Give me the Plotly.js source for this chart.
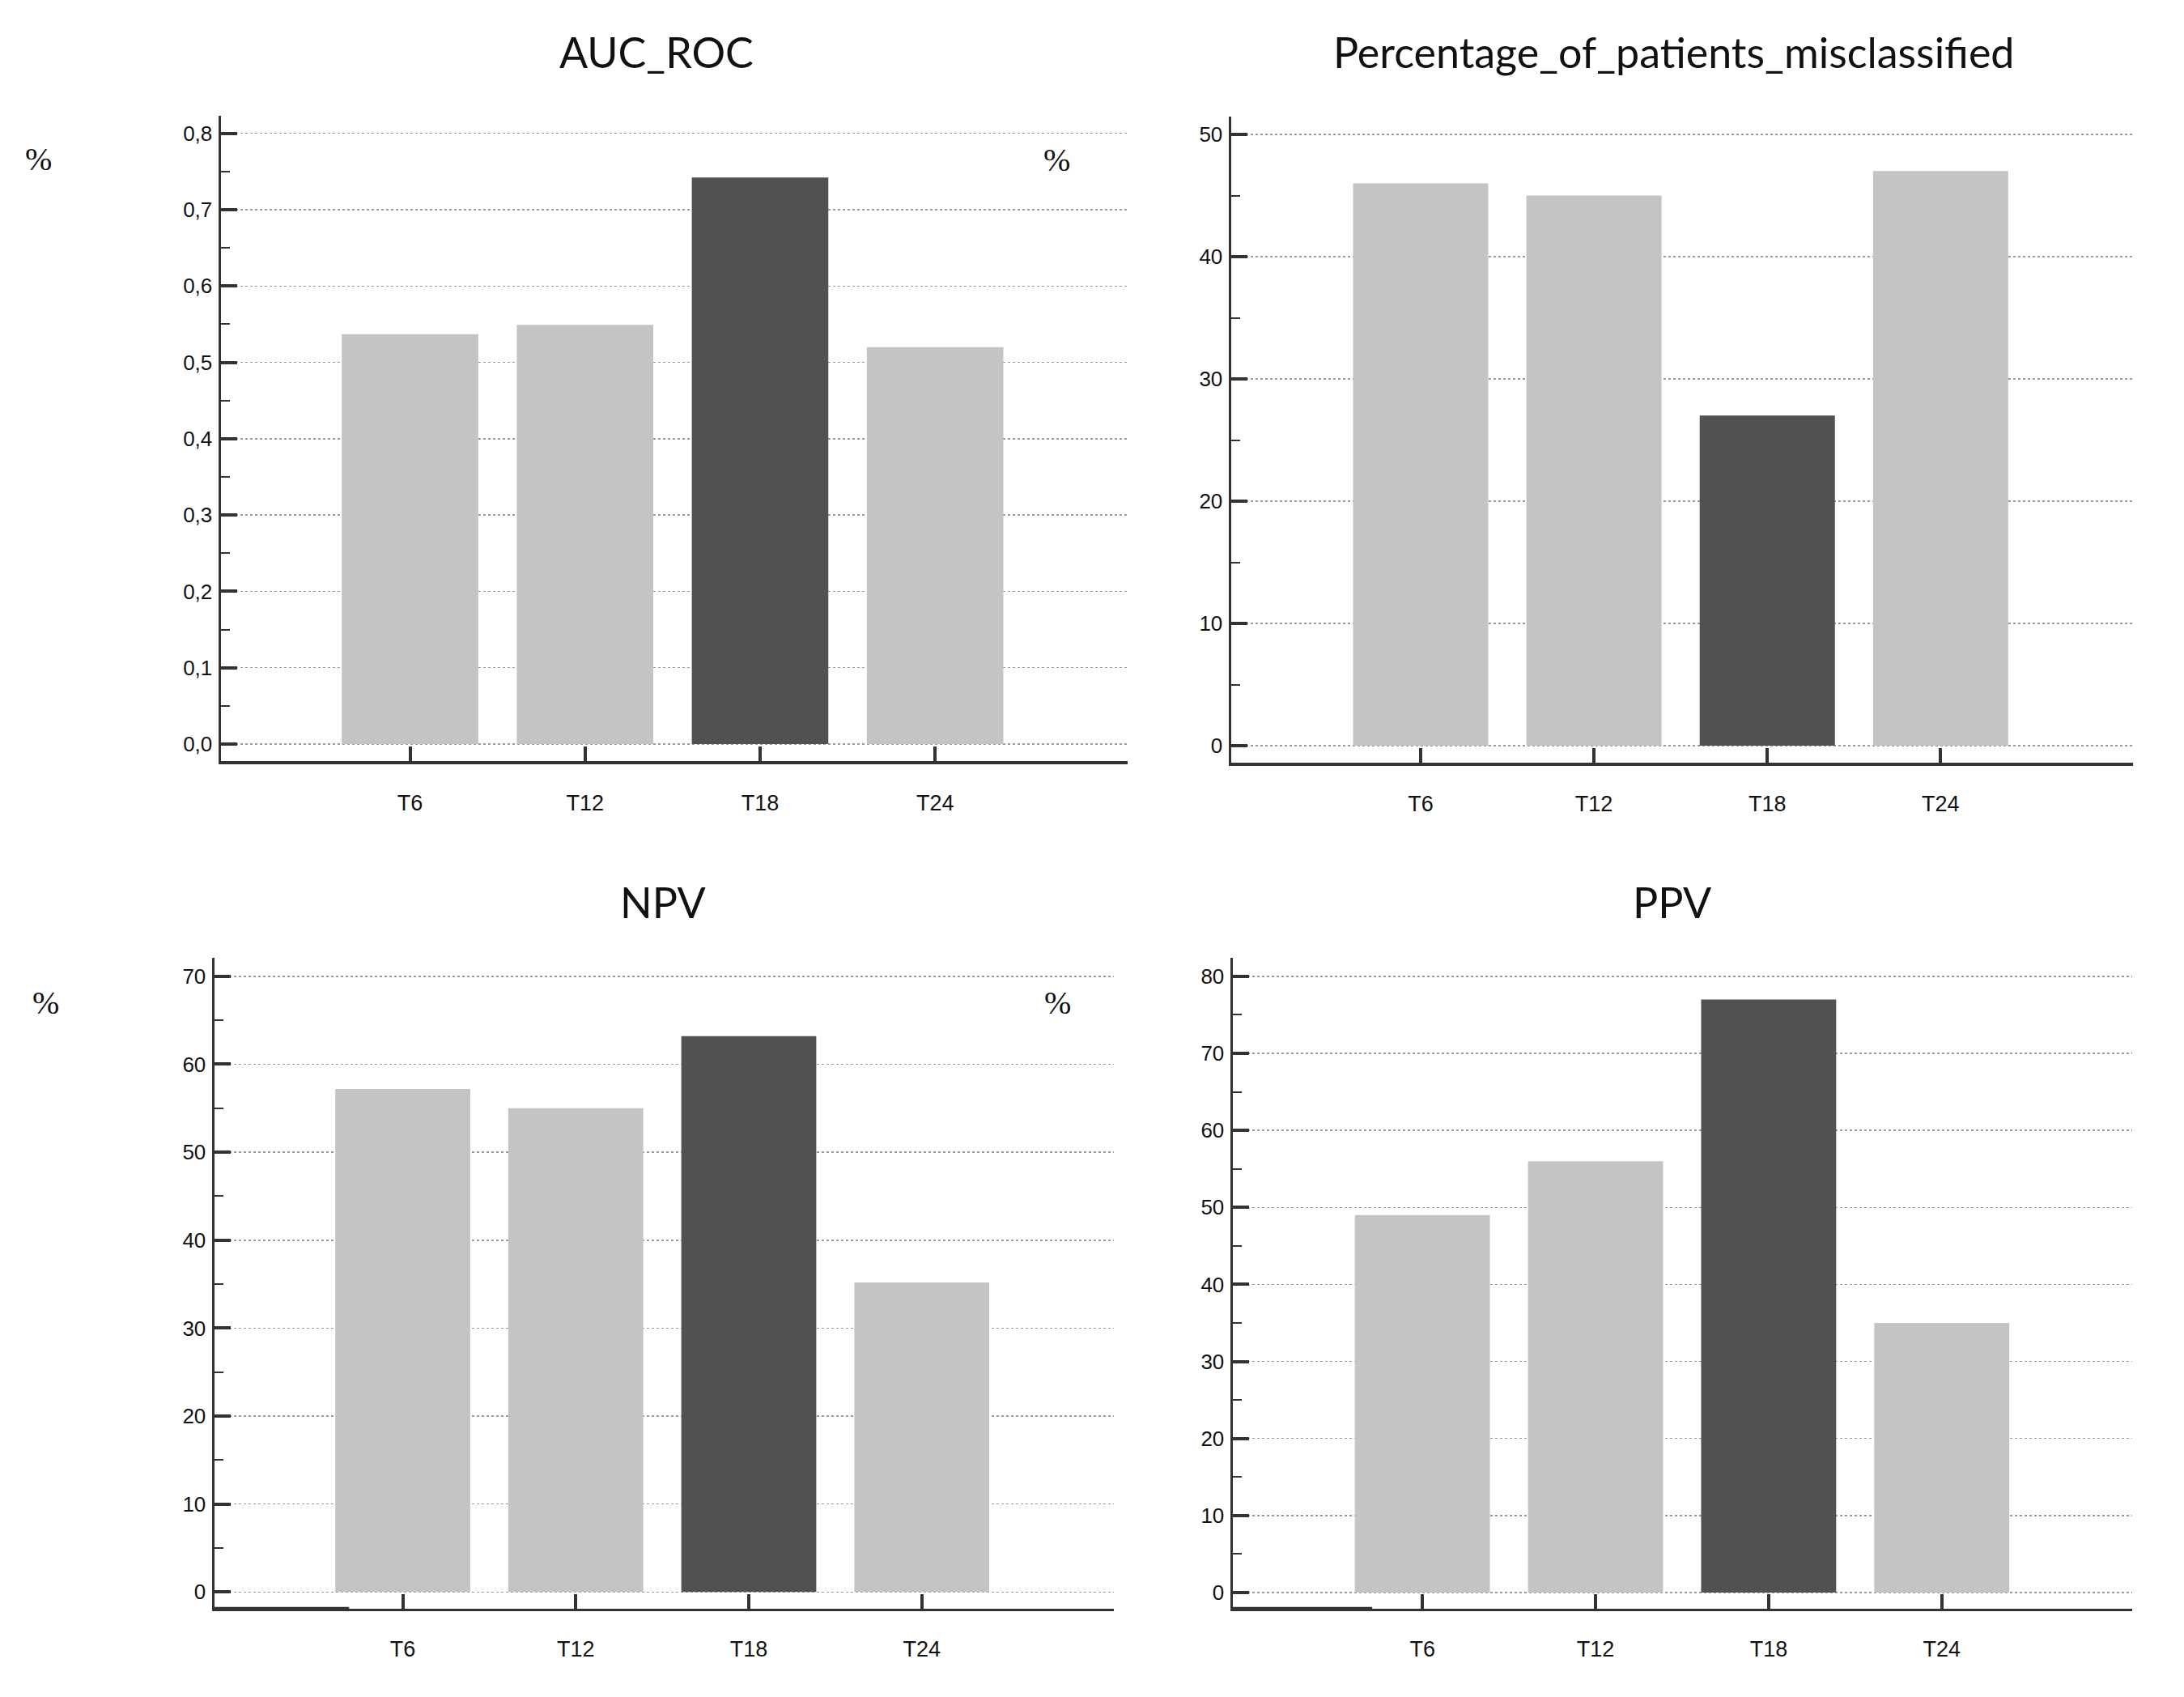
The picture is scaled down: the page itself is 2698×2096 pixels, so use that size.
<!DOCTYPE html>
<html>
<head>
<meta charset="utf-8">
<script src="https://cdn.plot.ly/plotly-3.0.1.min.js"></script>
<style>html,body{margin:0;padding:0;background:#fff;}#chart{width:2698px;height:2096px;}</style>
</head>
<body>
<div id="chart"></div>
<script>
// ---- data ----
const categories = ['T6', 'T12', 'T18', 'T24'];
const aucRoc = [0.537, 0.549, 0.742, 0.520];
const misclassified = [46, 45, 27, 47];
const npv = [57.2, 55, 63.2, 35.2];
const ppv = [49, 56, 77, 35];
const barColors = ['#c4c4c4', '#c4c4c4', '#515151', '#c4c4c4'];
const panelTitles = ['AUC_ROC', 'Percentage_of_patients_misclassified', 'NPV', 'PPV'];
const unitLabel = '%';

const W = 2698, H = 2096;
const px = v => v / W;
const py = v => 1 - v / H;

function bar(y, xa, ya) {
  return {
    type: 'bar', x: categories, y: y, xaxis: xa, yaxis: ya,
    width: 0.78, marker: {color: barColors, line: {width: 0}},
    hoverinfo: 'x+y', showlegend: false
  };
}

const tickFont = {family: 'Liberation Sans, Arial, sans-serif', size: 26, color: '#111'};
const xTickFont = {family: 'Liberation Sans, Arial, sans-serif', size: 27, color: '#111'};

function xAxis(dom, range, lw, anchor) {
  return {
    domain: dom, range: range, type: 'category', fixedrange: true, anchor: anchor,
    showline: true, linecolor: '#333', linewidth: lw,
    ticks: 'inside', ticklen: 18, tickwidth: 4, tickcolor: '#333',
    showgrid: false, zeroline: false, tickfont: xTickFont, ticklabelstandoff: 24
  };
}
function yAxis(dom, range, dtick, minor, fmt, anchor) {
  return {
    domain: dom, range: range, anchor: anchor, fixedrange: true,
    showline: true, linecolor: '#333', linewidth: 3.5,
    ticks: 'inside', ticklen: 20, tickwidth: 4, tickcolor: '#333',
    tick0: 0, dtick: dtick, tickformat: fmt,
    minor: {ticks: 'inside', ticklen: 11, tickwidth: 2, tickcolor: '#333', dtick: minor, tick0: 0, showgrid: false},
    showgrid: true, gridcolor: '#9a9a9a', griddash: 'dot', gridwidth: 1.5,
    zeroline: false, tickfont: tickFont, ticklabelstandoff: 2
  };
}

const traces = [
  bar(aucRoc, 'x', 'y'),
  bar(misclassified, 'x2', 'y2'),
  bar(npv, 'x3', 'y3'),
  bar(ppv, 'x4', 'y4')
];

const titleFont = {family: 'Lato, Open Sans, sans-serif', size: 52, color: '#111'};
const pctFont = {family: 'Liberation Serif, Times New Roman, serif', size: 40, color: '#111'};

function ann(text, x, y, font) {
  return {text: text, x: px(x), y: py(y), xref: 'paper', yref: 'paper',
          xanchor: 'center', yanchor: 'middle', showarrow: false, font: font};
}

const layout = {
  width: W, height: H,
  margin: {l: 0, r: 0, t: 0, b: 0},
  paper_bgcolor: '#fff', plot_bgcolor: 'rgba(0,0,0,0)',
  separators: ', ',
  xaxis:  xAxis([px(273), px(1393)], [-1.08, 4.10], 4.3, 'y'),
  yaxis:  yAxis([py(940), py(143)], [-0.0223, 0.823], 0.1, 0.05, '.1f', 'x'),
  xaxis2: xAxis([px(1521), px(2635)], [-1.093, 4.11], 4, 'y2'),
  yaxis2: yAxis([py(942), py(144)], [-1.39, 51.46], 10, 5, 'd', 'x2'),
  xaxis3: xAxis([px(265), px(1376)], [-1.088, 4.11], 2.5, 'y3'),
  yaxis3: yAxis([py(1987), py(1183)], [-1.9, 72.1], 10, 5, 'd', 'x3'),
  xaxis4: xAxis([px(1523), px(2634)], [-1.095, 4.10], 2.5, 'y4'),
  yaxis4: yAxis([py(1987), py(1183)], [-2.1, 82.4], 10, 5, 'd', 'x4'),
  shapes: [
    {type: 'line', xref: 'x3', yref: 'y3 domain', x0: -1.088, x1: -0.31, y0: 0, y1: 0, line: {color: '#333', width: 4.5}},
    {type: 'line', xref: 'x4', yref: 'y4 domain', x0: -1.095, x1: -0.29, y0: 0, y1: 0, line: {color: '#333', width: 4.5}}
  ],
  annotations: [
    ann(panelTitles[0], 811, 64, titleFont),
    ann(panelTitles[1], 2067, 64, titleFont),
    ann(panelTitles[2], 819, 1114, titleFont),
    ann(panelTitles[3], 2066, 1114, titleFont),
    ann(unitLabel, 47, 197, pctFont),
    ann(unitLabel, 1305, 198, pctFont),
    ann(unitLabel, 56, 1238, pctFont),
    ann(unitLabel, 1306, 1238, pctFont)
  ]
};

Plotly.newPlot('chart', traces, layout, {displayModeBar: false, staticPlot: true});
</script>
</body>
</html>
